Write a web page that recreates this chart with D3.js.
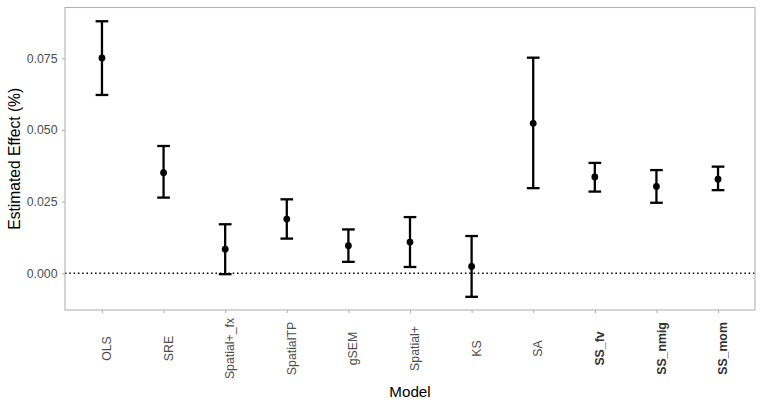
<!DOCTYPE html>
<html>
<head>
<meta charset="utf-8">
<script src="https://cdn.jsdelivr.net/npm/d3@7"></script>
<style>
  html, body { margin: 0; padding: 0; background: #fff; }
  svg { display: block; font-family: "Liberation Sans", Arial, Helvetica, sans-serif; }
</style>
</head>
<body>
<svg id="chart" width="763" height="407"></svg>
<script>
// ---- data ----
const models = ["OLS", "SRE", "Spatial+_fx", "SpatialTP", "gSEM", "Spatial+", "KS", "SA", "SS_fv", "SS_nmig", "SS_mom"];
const estimates = [0.0751, 0.0351, 0.0084, 0.0189, 0.0096, 0.0109, 0.0024, 0.0523, 0.0336, 0.0303, 0.0328];
const lower =     [0.0622, 0.0264, -0.0003, 0.0121, 0.0040, 0.0022, -0.0082, 0.0297, 0.0285, 0.0246, 0.0290];
const upper =     [0.0879, 0.0444, 0.0171, 0.0258, 0.0153, 0.0196, 0.0130, 0.0752, 0.0385, 0.0360, 0.0372];
const boldModels = ["SS_fv", "SS_nmig", "SS_mom"];
const yTicks = [0.000, 0.025, 0.050, 0.075];
const yDomain = [-0.0128, 0.0927];
const xTitle = "Model";
const yTitle = "Estimated Effect (%)";

const rows = models.map((m, i) => ({ model: m, est: estimates[i], lo: lower[i], hi: upper[i] }));

// ---- layout ----
const W = 763, H = 407;
const margin = { left: 65, top: 7.5, right: 8, bottom: 97 };
const pw = W - margin.left - margin.right;
const ph = H - margin.top - margin.bottom;

const svg = d3.select("#chart");
const g = svg.append("g").attr("transform", `translate(${margin.left},${margin.top})`);

const x = d3.scalePoint().domain(models).range([0, pw]).padding(0.6);
const y = d3.scaleLinear().domain(yDomain).range([ph, 0]);

const axisGrey = "#B3B3B3";
const textGrey = "#4D4D4D";

// panel background
g.append("rect").attr("x", 0).attr("y", 0).attr("width", pw).attr("height", ph).attr("fill", "#fff");

// zero reference line (dotted)
g.append("line")
  .attr("x1", 0).attr("x2", pw)
  .attr("y1", y(0)).attr("y2", y(0))
  .attr("stroke", "#000").attr("stroke-width", 1.6)
  .attr("stroke-dasharray", "1.5,2.8");

// error bars
const capW = x.step() * 0.206;
const eb = g.append("g").selectAll("g").data(rows).join("g");
eb.append("line")
  .attr("x1", d => x(d.model)).attr("x2", d => x(d.model))
  .attr("y1", d => y(d.lo)).attr("y2", d => y(d.hi))
  .attr("stroke", "#000").attr("stroke-width", 2.3);
eb.append("line")
  .attr("x1", d => x(d.model) - capW / 2).attr("x2", d => x(d.model) + capW / 2)
  .attr("y1", d => y(d.hi)).attr("y2", d => y(d.hi))
  .attr("stroke", "#000").attr("stroke-width", 2.3);
eb.append("line")
  .attr("x1", d => x(d.model) - capW / 2).attr("x2", d => x(d.model) + capW / 2)
  .attr("y1", d => y(d.lo)).attr("y2", d => y(d.lo))
  .attr("stroke", "#000").attr("stroke-width", 2.3);
eb.append("circle")
  .attr("cx", d => x(d.model)).attr("cy", d => y(d.est))
  .attr("r", 3.4).attr("fill", "#000");

// panel border
g.append("rect").attr("x", 0).attr("y", 0).attr("width", pw).attr("height", ph)
  .attr("fill", "none").attr("stroke", axisGrey).attr("stroke-width", 1.1);

// y axis
const yAxis = g.append("g").call(d3.axisLeft(y).tickValues(yTicks).tickSize(3).tickPadding(4.5).tickFormat(d3.format(".3f")));
yAxis.select(".domain").remove();
yAxis.selectAll(".tick line").attr("stroke", axisGrey).attr("stroke-width", 1.1);
yAxis.selectAll(".tick text")
  .attr("fill", textGrey).attr("font-size", "12.3px")
  .attr("font-family", "'Liberation Sans', Arial, sans-serif");

// x axis
const xAxis = g.append("g").attr("transform", `translate(0,${ph})`).call(d3.axisBottom(x).tickSize(3).tickFormat(""));
xAxis.select(".domain").remove();
xAxis.selectAll(".tick line").attr("stroke", axisGrey).attr("stroke-width", 1.1);

// rotated x labels
g.append("g").selectAll("text").data(models).join("text")
  .attr("transform", d => `translate(${x(d) + 9.1},${ph + 38.5}) rotate(-90)`)
  .attr("text-anchor", "middle")
  .attr("font-size", "12.3px")
  .attr("font-weight", d => boldModels.includes(d) ? "bold" : "normal")
  .attr("fill", d => boldModels.includes(d) ? "#333333" : textGrey)
  .text(d => d);

// axis titles
svg.append("text")
  .attr("x", margin.left + pw / 2).attr("y", 396.5)
  .attr("text-anchor", "middle").attr("font-size", "15.2px").attr("fill", "#000")
  .text(xTitle);

svg.append("text")
  .attr("transform", `translate(19.5,${margin.top + ph / 2}) rotate(-90)`)
  .attr("text-anchor", "middle").attr("font-size", "15.6px").attr("fill", "#000")
  .text(yTitle);
</script>
</body>
</html>
